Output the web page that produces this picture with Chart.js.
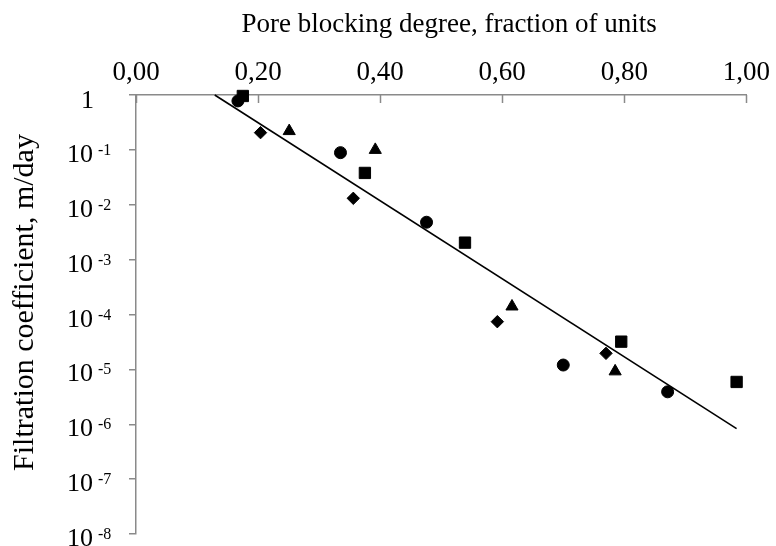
<!DOCTYPE html>
<html>
<head>
<meta charset="utf-8">
<script src="https://cdn.jsdelivr.net/npm/chart.js@4"></script>
<style>
  body { margin: 0; background: #fff; }
  #wrap { width: 776px; height: 546px; }
</style>
</head>
<body>
<div id="wrap"><canvas id="chart"></canvas></div>
<script>
// pore blocking degree (x) and filtration coefficient, m/day (y)
const circleX = [0.167, 0.335, 0.476, 0.700, 0.871];
const circleY = [0.78, 0.089, 0.0048, 1.2e-5, 3.9e-6];

const squareX = [0.175, 0.375, 0.539, 0.795, 0.984];
const squareY = [0.96, 0.038, 0.00204, 3.2e-5, 5.9e-6];

const diamondX = [0.204, 0.356, 0.592, 0.770];
const diamondY = [0.206, 0.0131, 7.4e-5, 1.96e-5];

const triangleX = [0.251, 0.392, 0.616, 0.785];
const triangleY = [0.22, 0.1, 1.4e-4, 9.2e-6];

// exponential trend line
const trendX = [0.129, 0.984];
const trendY = [1, 8.3e-7];

const xTicks = [0, 0.2, 0.4, 0.6, 0.8, 1.0];
const yExponents = [0, -1, -2, -3, -4, -5, -6, -7, -8];

const xTitle = 'Pore blocking degree, fraction of units';
const yTitle = 'Filtration coefficient, m/day';

const axisGray = '#8a8a8a';
const serif = '"Liberation Serif", "Times New Roman", serif';

const pts = (xs, ys) => xs.map((x, i) => ({ x: x, y: ys[i] }));

function marker(label, xs, ys, style, r) {
  return {
    label: label,
    data: pts(xs, ys),
    pointStyle: style,
    pointRadius: r,
    pointHoverRadius: r,
    backgroundColor: '#000',
    borderColor: '#000',
    borderWidth: 1,
    showLine: false,
    clip: false
  };
}

// titles, inward ticks on the top axis, and y labels as 10 with a raised exponent
const axisExtras = {
  id: 'axisExtras',
  afterDraw(chart) {
    const ctx = chart.ctx;
    const xs = chart.scales.x;
    const ys = chart.scales.y;
    const area = chart.chartArea;
    ctx.save();
    ctx.strokeStyle = axisGray;
    ctx.lineWidth = 1.5;
    xTicks.forEach(v => {
      const px = Math.round(xs.getPixelForValue(v)) + 0.5;
      ctx.beginPath();
      ctx.moveTo(px, area.top);
      ctx.lineTo(px, area.top + 8);
      ctx.stroke();
    });

    ctx.fillStyle = '#000';
    ctx.textBaseline = 'alphabetic';
    const baseX = ys.right - 43;
    yExponents.forEach(e => {
      const py = ys.getPixelForValue(Math.pow(10, e));
      ctx.font = '26px ' + serif;
      ctx.textAlign = 'right';
      if (e === 0) {
        ctx.fillText('1', baseX + 1, py + 13);
        return;
      }
      ctx.fillText('10', baseX, py + 12);
      ctx.font = '16px ' + serif;
      ctx.textAlign = 'left';
      ctx.fillText(String(e), baseX + 5, py + 5);
    });

    // axis titles
    ctx.textAlign = 'center';
    ctx.font = '27px ' + serif;
    ctx.fillText(xTitle, (area.left + area.right) / 2 + 8, 32);

    ctx.font = '30px ' + serif;
    ctx.translate(33, (area.top + area.bottom) / 2 - 12);
    ctx.rotate(-Math.PI / 2);
    ctx.fillText(yTitle, 0, 0);
    ctx.restore();
  }
};

new Chart(document.getElementById('chart'), {
  type: 'scatter',
  data: {
    datasets: [
      {
        label: 'Trend',
        data: pts(trendX, trendY),
        showLine: true,
        borderColor: '#000',
        borderWidth: 1.6,
        pointRadius: 0,
        pointHoverRadius: 0,
        fill: false,
        clip: false
      },
      marker('Circles', circleX, circleY, 'circle', 6),
      marker('Squares', squareX, squareY, 'rect', 8),
      marker('Diamonds', diamondX, diamondY, 'rectRot', 6.2),
      marker('Triangles', triangleX, triangleY, 'triangle', 7)
    ]
  },
  options: {
    responsive: true,
    maintainAspectRatio: false,
    animation: false,
    layout: { padding: { left: 0, top: 0, right: 24, bottom: 12 } },
    plugins: {
      legend: { display: false },
      tooltip: { enabled: false }
    },
    scales: {
      x: {
        type: 'linear',
        position: 'top',
        min: 0,
        max: 1,
        afterBuildTicks: scale => { scale.ticks = xTicks.map(v => ({ value: v })); },
        afterFit: scale => { scale.height = 95; },
        ticks: {
          padding: 6,
          color: '#000',
          font: { family: serif, size: 27 },
          maxRotation: 0,
          callback: v => v.toFixed(2).replace('.', ',')
        },
        grid: { drawOnChartArea: false, drawTicks: false },
        border: { display: true, color: axisGray, width: 1.5 }
      },
      y: {
        type: 'logarithmic',
        min: 1e-8,
        max: 1,
        afterBuildTicks: scale => { scale.ticks = yExponents.map(e => ({ value: Math.pow(10, e) })); },
        afterFit: scale => { scale.width = 136; },
        ticks: { display: false },
        grid: {
          drawOnChartArea: false,
          drawTicks: true,
          tickLength: 7,
          color: axisGray,
          lineWidth: 1.5
        },
        border: { display: true, color: axisGray, width: 1.5 }
      }
    }
  },
  plugins: [axisExtras]
});
</script>
</body>
</html>
